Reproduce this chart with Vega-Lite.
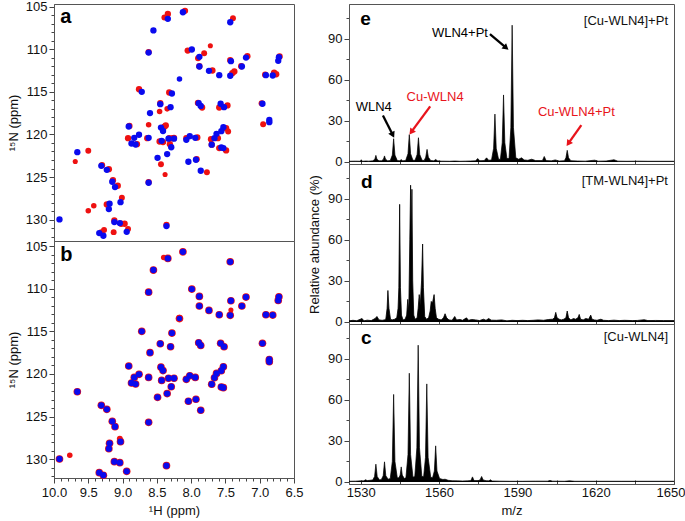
{
"$schema": "https://vega.github.io/schema/vega-lite/v6.json",
"background": "white",
"padding": {"left": 6, "top": 0, "right": 0, "bottom": 0},
"config": {
  "font": "Liberation Sans",
  "concat": {"spacing": 0},
  "view": {"stroke": "#555", "strokeWidth": 1},
  "axis": {"grid": false, "domainColor": "#555", "tickColor": "#444", "labelColor": "#111", "titleColor": "#111", "labelFontSize": 13, "titleFontSize": 13, "titleFontWeight": "normal", "labelFlush": false, "labelOverlap": false, "tickWidth": 1, "domainWidth": 1}
},
"datasets": {
  "blue": [
    {"h":8.34,"n":106.44,"w":"L"},{"h":8.55,"n":107.8,"w":"L"},{"h":8.62,"n":110.4,"w":"L"},{"h":8.72,"n":115.0,"w":"L"},{"h":8.28,"n":115.2,"w":"L"},{"h":8.45,"n":116.45,"w":"L"},{"h":8.30,"n":116.8,"w":"L"},{"h":8.60,"n":117.5,"w":"L"},{"h":8.91,"n":119.07,"w":"L"},{"h":8.44,"n":119.2,"w":"L"},{"h":8.41,"n":119.6,"w":"L"},{"h":8.76,"n":120.04,"w":"L"},{"h":8.83,"n":120.4,"w":"L"},{"h":8.62,"n":120.4,"w":"L"},{"h":8.43,"n":120.75,"w":"L"},{"h":8.33,"n":120.5,"w":"L"},{"h":8.25,"n":120.5,"w":"L"},{"h":8.87,"n":121.06,"w":"L"},{"h":8.81,"n":121.18,"w":"L"},{"h":8.29,"n":121.5,"w":"L"},{"h":9.66,"n":122.08,"w":"L"},{"h":8.35,"n":122.3,"w":"L"},{"h":8.49,"n":122.74,"w":"L"},{"h":9.31,"n":123.68,"w":"L"},{"h":9.23,"n":124.15,"w":"L"},{"h":9.15,"n":125.55,"w":"L"},{"h":8.62,"n":125.67,"w":"L"},{"h":9.11,"n":126.18,"w":"L"},{"h":9.03,"n":127.94,"w":"L"},{"h":9.19,"n":128.13,"w":"L"},{"h":9.20,"n":128.76,"w":"L"},{"h":9.92,"n":129.97,"w":"L"},{"h":9.12,"n":130.28,"w":"L"},{"h":9.04,"n":130.4,"w":"L"},{"h":8.36,"n":130.75,"w":"L"},{"h":9.34,"n":131.57,"w":"L"},{"h":9.28,"n":131.88,"w":"L"},{"h":8.94,"n":131.42,"w":"L"},{"h":8.12,"n":105.67,"w":"L"},{"h":7.43,"n":106.84,"w":"L"},{"h":7.99,"n":110.04,"w":"L"},{"h":7.88,"n":110.9,"w":"L"},{"h":7.42,"n":111.41,"w":"L"},{"h":7.20,"n":110.98,"w":"L"},{"h":6.73,"n":111.37,"w":"L"},{"h":6.72,"n":110.95,"w":"L"},{"h":7.88,"n":112.03,"w":"L"},{"h":7.74,"n":112.54,"w":"L"},{"h":7.26,"n":112.03,"w":"L"},{"h":7.59,"n":113.05,"w":"L"},{"h":7.43,"n":113.12,"w":"L"},{"h":6.91,"n":113.05,"w":"L"},{"h":6.81,"n":113.09,"w":"L"},{"h":8.17,"n":113.5,"w":"S"},{"h":7.89,"n":116.33,"w":"L"},{"h":7.86,"n":116.65,"w":"L"},{"h":7.57,"n":116.4,"w":"L"},{"h":7.52,"n":116.8,"w":"L"},{"h":6.96,"n":116.4,"w":"L"},{"h":6.86,"n":118.3,"w":"L"},{"h":6.86,"n":118.56,"w":"L"},{"h":7.53,"n":119.15,"w":"L"},{"h":7.56,"n":119.62,"w":"L"},{"h":7.63,"n":119.93,"w":"L"},{"h":7.66,"n":120.44,"w":"L"},{"h":8.02,"n":120.2,"w":"L"},{"h":8.07,"n":120.63,"w":"L"},{"h":7.94,"n":120.4,"w":"L"},{"h":7.70,"n":121.2,"w":"L"},{"h":7.56,"n":121.53,"w":"L"},{"h":7.53,"n":121.6,"w":"L"},{"h":7.93,"n":122.97,"w":"L"},{"h":8.04,"n":123.2,"w":"L"},{"h":7.86,"n":124.26,"w":"L"}
  ],
  "redA": [
    {"h":8.34,"n":105.86,"w":"L"},{"h":8.39,"n":106.29,"w":"M"},{"h":8.62,"n":110.34,"w":"L"},{"h":8.76,"n":114.7,"w":"L"},{"h":8.32,"n":115.08,"w":"L"},{"h":8.45,"n":116.33,"w":"L"},{"h":8.46,"n":117.3,"w":"S"},{"h":8.35,"n":117.0,"w":"S"},{"h":8.62,"n":118.87,"w":"S"},{"h":8.39,"n":119.1,"w":"L"},{"h":8.37,"n":118.95,"w":"L"},{"h":8.92,"n":120.44,"w":"L"},{"h":8.79,"n":121.14,"w":"L"},{"h":8.64,"n":120.44,"w":"L"},{"h":8.46,"n":120.83,"w":"L"},{"h":8.41,"n":120.9,"w":"L"},{"h":8.32,"n":120.44,"w":"L"},{"h":8.27,"n":120.44,"w":"L"},{"h":8.31,"n":121.14,"w":"L"},{"h":9.50,"n":121.92,"w":"M"},{"h":9.69,"n":123.17,"w":"T"},{"h":8.44,"n":123.5,"w":"M"},{"h":8.38,"n":124.7,"w":"T"},{"h":9.30,"n":123.6,"w":"L"},{"h":9.20,"n":124.07,"w":"L"},{"h":9.14,"n":125.36,"w":"L"},{"h":9.07,"n":126.02,"w":"L"},{"h":9.01,"n":127.43,"w":"M"},{"h":9.23,"n":128.21,"w":"L"},{"h":9.42,"n":128.37,"w":"S"},{"h":9.50,"n":128.95,"w":"S"},{"h":8.62,"n":125.6,"w":"L"},{"h":9.12,"n":130.09,"w":"L"},{"h":9.02,"n":130.48,"w":"L"},{"h":8.97,"n":130.48,"w":"L"},{"h":8.92,"n":131.1,"w":"M"},{"h":9.27,"n":131.22,"w":"M"},{"h":9.31,"n":131.5,"w":"L"},{"h":9.13,"n":131.46,"w":"M"},{"h":8.36,"n":130.6,"w":"L"},{"h":8.09,"n":105.5,"w":"L"},{"h":7.39,"n":106.37,"w":"M"},{"h":8.05,"n":110.16,"w":"L"},{"h":7.81,"n":110.47,"w":"M"},{"h":7.72,"n":109.6,"w":"T"},{"h":7.90,"n":111.06,"w":"M"},{"h":7.18,"n":110.82,"w":"L"},{"h":6.71,"n":110.86,"w":"L"},{"h":7.69,"n":112.5,"w":"L"},{"h":7.40,"n":112.82,"w":"L"},{"h":7.37,"n":112.62,"w":"L"},{"h":6.79,"n":112.74,"w":"L"},{"h":6.76,"n":112.94,"w":"L"},{"h":7.88,"n":112.0,"w":"L"},{"h":7.59,"n":116.84,"w":"L"},{"h":7.47,"n":116.6,"w":"L"},{"h":7.84,"n":116.84,"w":"L"},{"h":6.97,"n":116.35,"w":"L"},{"h":6.95,"n":118.8,"w":"M"},{"h":7.49,"n":119.27,"w":"L"},{"h":7.46,"n":119.65,"w":"M"},{"h":7.91,"n":120.36,"w":"L"},{"h":8.07,"n":120.44,"w":"L"},{"h":7.71,"n":120.56,"w":"L"},{"h":7.61,"n":120.44,"w":"L"},{"h":7.59,"n":121.6,"w":"L"},{"h":7.49,"n":121.88,"w":"L"},{"h":7.70,"n":121.2,"w":"L"},{"h":7.92,"n":122.9,"w":"L"},{"h":7.77,"n":124.43,"w":"M"},{"h":8.25,"n":120.4,"w":"L"},{"h":8.90,"n":119.0,"w":"L"},{"h":7.43,"n":111.3,"w":"L"},{"h":7.27,"n":112.0,"w":"L"},{"h":6.92,"n":113.0,"w":"L"},{"h":7.90,"n":116.3,"w":"L"}
  ],
  "redB": [
    {"h":9.77,"n":129.53,"w":"S"},{"h":8.17,"n":113.38,"w":"S"},{"h":8.40,"n":106.34,"w":"S"},{"h":7.42,"n":112.5,"w":"T"},{"h":9.04,"n":127.6,"w":"M"},{"h":8.55,"n":107.9,"w":"M"}
  ],
  "specE": [
    {"mz":1525.5,"ab":0.5},{"mz":1528,"ab":0.6},{"mz":1529.8,"ab":0.5},{"mz":1530.2,"ab":1.6},{"mz":1530.6,"ab":0.5},{"mz":1532,"ab":0.7},{"mz":1533,"ab":0.6},
    {"mz":1534.6,"ab":0.8},{"mz":1535.4,"ab":2},{"mz":1535.8,"ab":4.8},{"mz":1536.2,"ab":2},{"mz":1537,"ab":0.8},
    {"mz":1538,"ab":0.9},{"mz":1538.7,"ab":2},{"mz":1539.1,"ab":4.4},{"mz":1539.5,"ab":2},{"mz":1540.3,"ab":0.8},
    {"mz":1541.3,"ab":1},{"mz":1542.1,"ab":5},{"mz":1542.6,"ab":17},{"mz":1543.1,"ab":5},{"mz":1544,"ab":1},
    {"mz":1545,"ab":0.8},{"mz":1545.5,"ab":1.8},{"mz":1546,"ab":0.8},
    {"mz":1547.2,"ab":1},{"mz":1548.1,"ab":6},{"mz":1548.6,"ab":20},{"mz":1549.1,"ab":6},{"mz":1550,"ab":1.2},
    {"mz":1550.8,"ab":1.2},{"mz":1551.6,"ab":5.5},{"mz":1552.1,"ab":17.7},{"mz":1552.6,"ab":5.5},{"mz":1553.5,"ab":1.2},
    {"mz":1554.3,"ab":1.1},{"mz":1554.9,"ab":3.5},{"mz":1555.4,"ab":9.2},{"mz":1555.9,"ab":3.5},{"mz":1556.8,"ab":1},
    {"mz":1558,"ab":0.8},{"mz":1558.7,"ab":1.8},{"mz":1559.4,"ab":0.8},
    {"mz":1561,"ab":0.6},{"mz":1564,"ab":0.5},{"mz":1566,"ab":0.7},{"mz":1568,"ab":0.5},{"mz":1570,"ab":0.6},{"mz":1572,"ab":0.7},
    {"mz":1574,"ab":0.8},{"mz":1574.8,"ab":2.5},{"mz":1575.6,"ab":0.9},
    {"mz":1577.3,"ab":1},{"mz":1578.2,"ab":3},{"mz":1579,"ab":1.2},
    {"mz":1580.1,"ab":1.5},{"mz":1580.9,"ab":10},{"mz":1581.4,"ab":35},{"mz":1581.9,"ab":10},{"mz":1582.8,"ab":2},
    {"mz":1583.5,"ab":2},{"mz":1584.2,"ab":14},{"mz":1584.7,"ab":49},{"mz":1585.2,"ab":14},{"mz":1586,"ab":2.5},
    {"mz":1586.8,"ab":2.5},{"mz":1587.5,"ab":25},{"mz":1588.0,"ab":100},{"mz":1588.5,"ab":25},{"mz":1589.4,"ab":3},
    {"mz":1590.5,"ab":2},{"mz":1591.6,"ab":3},{"mz":1592.6,"ab":1.5},{"mz":1594,"ab":1.2},{"mz":1595.5,"ab":2},{"mz":1597,"ab":1},{"mz":1599,"ab":1},
    {"mz":1599.6,"ab":1},{"mz":1600.3,"ab":4},{"mz":1601,"ab":1},
    {"mz":1603,"ab":0.8},{"mz":1604.5,"ab":1.5},{"mz":1606,"ab":0.7},
    {"mz":1608,"ab":0.9},{"mz":1608.6,"ab":3},{"mz":1609.1,"ab":8.5},{"mz":1609.6,"ab":3},{"mz":1610.5,"ab":0.9},
    {"mz":1613,"ab":0.7},{"mz":1616,"ab":0.6},{"mz":1619.6,"ab":1.3},{"mz":1621,"ab":0.6},{"mz":1624,"ab":0.7},{"mz":1627,"ab":1.6},{"mz":1628.5,"ab":0.6},{"mz":1632,"ab":0.5},{"mz":1636,"ab":0.6},{"mz":1640,"ab":0.5},{"mz":1645,"ab":0.5},{"mz":1650,"ab":0.5}
  ],
  "specD": [
    {"mz":1525.5,"ab":0.8},{"mz":1527,"ab":1.2},{"mz":1528.5,"ab":0.9},{"mz":1530.5,"ab":2.5},{"mz":1531.2,"ab":0.8},{"mz":1532.5,"ab":1.3},{"mz":1534,"ab":1},{"mz":1535.5,"ab":2.5},{"mz":1536.2,"ab":4},{"mz":1537,"ab":1.5},{"mz":1538.2,"ab":1.2},{"mz":1539,"ab":1.5},
    {"mz":1539.6,"ab":2},{"mz":1540.1,"ab":10},{"mz":1540.4,"ab":23},{"mz":1540.8,"ab":10},{"mz":1541.4,"ab":2},
    {"mz":1542,"ab":1.5},{"mz":1543,"ab":2},
    {"mz":1543.8,"ab":3},{"mz":1544.3,"ab":10},{"mz":1544.6,"ab":25},{"mz":1544.9,"ab":86},{"mz":1545.2,"ab":25},{"mz":1545.6,"ab":5},{"mz":1546.2,"ab":1.5},
    {"mz":1547,"ab":2},
    {"mz":1547.6,"ab":5},{"mz":1548.0,"ab":16.5},{"mz":1548.4,"ab":8},{"mz":1548.8,"ab":60},{"mz":1549.1,"ab":100},{"mz":1549.35,"ab":60},{"mz":1549.6,"ab":97},{"mz":1549.9,"ab":30},{"mz":1550.3,"ab":5},{"mz":1550.8,"ab":2},
    {"mz":1551.6,"ab":3},{"mz":1552.0,"ab":10},{"mz":1552.4,"ab":20},{"mz":1552.8,"ab":12},{"mz":1553.3,"ab":30},{"mz":1553.7,"ab":57},{"mz":1554.0,"ab":25},{"mz":1554.5,"ab":4},{"mz":1555.2,"ab":2},
    {"mz":1556,"ab":3},{"mz":1556.6,"ab":8},{"mz":1557.0,"ab":15},{"mz":1557.5,"ab":14},{"mz":1558.1,"ab":20},{"mz":1558.5,"ab":10},{"mz":1559,"ab":3},{"mz":1559.8,"ab":2},
    {"mz":1560.8,"ab":1.5},{"mz":1561.7,"ab":3},{"mz":1562.3,"ab":6},{"mz":1562.9,"ab":3},{"mz":1563.8,"ab":1.5},{"mz":1565,"ab":1.2},{"mz":1566,"ab":4},{"mz":1566.7,"ab":1.5},{"mz":1568,"ab":1.8},{"mz":1569,"ab":1.2},{"mz":1570.5,"ab":3},{"mz":1571.3,"ab":1.2},{"mz":1572.5,"ab":1.8},{"mz":1574,"ab":1.5},{"mz":1575.5,"ab":1},{"mz":1577,"ab":2},{"mz":1578,"ab":1.2},{"mz":1579,"ab":2.5},{"mz":1580,"ab":1.3},{"mz":1582,"ab":1.2},{"mz":1584,"ab":1.5},{"mz":1586,"ab":0.8},{"mz":1588,"ab":1.2},{"mz":1590,"ab":1},{"mz":1592,"ab":1.2},{"mz":1594,"ab":1},{"mz":1596,"ab":1.2},{"mz":1598,"ab":1.5},{"mz":1600,"ab":1.2},{"mz":1602,"ab":1.8},{"mz":1603.5,"ab":2},
    {"mz":1604.2,"ab":3},{"mz":1604.7,"ab":7},{"mz":1605.2,"ab":3},{"mz":1606,"ab":2},{"mz":1606.8,"ab":1.5},{"mz":1607.8,"ab":2},
    {"mz":1608.6,"ab":3},{"mz":1609.1,"ab":8},{"mz":1609.6,"ab":3},{"mz":1610.5,"ab":1.5},{"mz":1611.5,"ab":2.5},{"mz":1612.3,"ab":2},{"mz":1613.2,"ab":3},
    {"mz":1613.7,"ab":5.5},{"mz":1614.2,"ab":2},{"mz":1615.2,"ab":1.5},{"mz":1616.2,"ab":2.5},{"mz":1617.3,"ab":2},
    {"mz":1618.1,"ab":5},{"mz":1618.6,"ab":2},{"mz":1619.5,"ab":1.5},{"mz":1620.5,"ab":1.2},{"mz":1622,"ab":2},{"mz":1623,"ab":1.2},{"mz":1625,"ab":1},{"mz":1627,"ab":1.3},{"mz":1629,"ab":1},{"mz":1631,"ab":1.2},{"mz":1634,"ab":1},{"mz":1636,"ab":1.1},{"mz":1638.6,"ab":1.6},{"mz":1640,"ab":1},{"mz":1643,"ab":1.1},{"mz":1646,"ab":1},{"mz":1650,"ab":1}
  ],
  "specC": [
    {"mz":1525.5,"ab":0.5},{"mz":1528,"ab":0.6},{"mz":1530,"ab":0.8},{"mz":1531.2,"ab":0.8},{"mz":1531.8,"ab":1.6},{"mz":1532.5,"ab":1},{"mz":1533.5,"ab":1.2},
    {"mz":1534.6,"ab":1.5},{"mz":1535.3,"ab":4},{"mz":1535.8,"ab":13},{"mz":1536.3,"ab":4},{"mz":1537.2,"ab":1.5},
    {"mz":1537.9,"ab":1.8},{"mz":1538.6,"ab":4.5},{"mz":1539.1,"ab":14.7},{"mz":1539.6,"ab":4.5},{"mz":1540.5,"ab":2},
    {"mz":1541.3,"ab":2.5},{"mz":1542.1,"ab":15},{"mz":1542.6,"ab":64},{"mz":1543.1,"ab":15},{"mz":1544.0,"ab":3},
    {"mz":1544.6,"ab":3},{"mz":1545.1,"ab":5},{"mz":1545.5,"ab":11},{"mz":1545.9,"ab":5},{"mz":1546.7,"ab":2.5},
    {"mz":1547.3,"ab":3},{"mz":1548.1,"ab":20},{"mz":1548.6,"ab":79.5},{"mz":1549.1,"ab":20},{"mz":1550.0,"ab":3.5},
    {"mz":1550.7,"ab":4},{"mz":1551.5,"ab":25},{"mz":1552.0,"ab":100},{"mz":1552.5,"ab":25},{"mz":1553.4,"ab":4},
    {"mz":1554.1,"ab":4},{"mz":1554.8,"ab":18},{"mz":1555.3,"ab":71.7},{"mz":1555.8,"ab":18},{"mz":1556.8,"ab":3.5},
    {"mz":1557.5,"ab":3},{"mz":1558.2,"ab":8},{"mz":1558.7,"ab":26.4},{"mz":1559.2,"ab":8},{"mz":1560.2,"ab":2.5},
    {"mz":1561.5,"ab":1.8},{"mz":1562.3,"ab":2},{"mz":1563.5,"ab":1.2},{"mz":1565,"ab":0.9},{"mz":1567,"ab":0.8},{"mz":1569,"ab":0.7},{"mz":1571,"ab":0.8},
    {"mz":1572.2,"ab":1},{"mz":1572.8,"ab":3.7},{"mz":1573.4,"ab":1},
    {"mz":1575,"ab":1},{"mz":1575.7,"ab":1.5},{"mz":1576.3,"ab":4},{"mz":1576.9,"ab":1.5},{"mz":1578,"ab":0.9},{"mz":1579.1,"ab":0.8},{"mz":1579.7,"ab":1.6},{"mz":1580.3,"ab":0.7},{"mz":1583,"ab":0.6},{"mz":1587,"ab":0.5},{"mz":1592,"ab":0.5},{"mz":1597,"ab":0.6},{"mz":1601.5,"ab":0.6},{"mz":1602.5,"ab":1.1},{"mz":1603.5,"ab":0.6},{"mz":1608,"ab":0.5},{"mz":1610,"ab":0.8},{"mz":1612,"ab":0.5},{"mz":1620,"ab":0.5},{"mz":1630,"ab":0.5},{"mz":1640,"ab":0.5},{"mz":1650,"ab":0.5}
  ]
},
"resolve": {"scale": {"x": "independent", "y": "independent", "size": "independent", "color": "independent"}},
"spacing": 4,
"hconcat": [
  {
    "spacing": 0,
    "bounds": "flush",
    "resolve": {"scale": {"x": "independent", "y": "independent", "size": "independent"}},
    "vconcat": [
      {
        "width": 240, "height": 237,
        "encoding": {
          "x": {"field": "h", "type": "quantitative", "scale": {"domain": [6.5, 10], "reverse": true, "nice": false, "zero": false}, "axis": null},
          "y": {"field": "n", "type": "quantitative", "scale": {"domain": [104.7, 132.5], "reverse": true, "nice": false, "zero": false},
                "axis": {"values": [105,106,107,108,109,110,111,112,113,114,115,116,117,118,119,120,121,122,123,124,125,126,127,128,129,130,131,132],
                         "labelExpr": "datum.value % 5 === 0 ? datum.label : ''",
                         "tickSize": {"condition": {"test": "datum.value % 5 === 0", "value": 5}, "value": 3},
                         "title": "¹⁵N (ppm)", "labelPadding": 2, "titlePadding": 5}}
        },
        "layer": [
          {"data": {"name": "redA"}, "mark": {"type": "circle", "color": "#ee1111", "opacity": 1},
           "encoding": {"size": {"field": "w", "type": "ordinal", "scale": {"domain": ["L","M","S","T"], "range": [40, 26, 12, 5]}, "legend": null}}},
          {"data": {"name": "blue"}, "mark": {"type": "circle", "color": "#0a0aee", "opacity": 1},
           "encoding": {"size": {"field": "w", "type": "ordinal", "scale": {"domain": ["L","M","S","T"], "range": [40, 26, 12, 5]}, "legend": null}}},
          {"data": {"values": [{"h": 9.91, "n": 106.2, "t": "a"}]}, "mark": {"type": "text", "fontSize": 20, "fontWeight": "bold", "align": "left", "baseline": "middle", "color": "black"},
           "encoding": {"text": {"field": "t"}}}
        ]
      },
      {
        "width": 240, "height": 237,
        "encoding": {
          "x": {"field": "h", "type": "quantitative", "scale": {"domain": [6.5, 10], "reverse": true, "nice": false, "zero": false},
                "axis": {"values": [6.5,6.6,6.7,6.8,6.9,7,7.1,7.2,7.3,7.4,7.5,7.6,7.7,7.8,7.9,8,8.1,8.2,8.3,8.4,8.5,8.6,8.7,8.8,8.9,9,9.1,9.2,9.3,9.4,9.5,9.6,9.7,9.8,9.9,10],
                         "labelExpr": "abs(datum.value*2 - round(datum.value*2)) < 0.01 ? format(datum.value, '.1f') : ''",
                         "tickSize": {"condition": {"test": "abs(datum.value*2 - round(datum.value*2)) < 0.01", "value": 5}, "value": 3},
                         "title": "¹H (ppm)", "labelPadding": 3, "titlePadding": 5}},
          "y": {"field": "n", "type": "quantitative", "scale": {"domain": [104.4, 132.2], "reverse": true, "nice": false, "zero": false},
                "axis": {"values": [105,106,107,108,109,110,111,112,113,114,115,116,117,118,119,120,121,122,123,124,125,126,127,128,129,130,131,132],
                         "labelExpr": "datum.value % 5 === 0 ? datum.label : ''",
                         "tickSize": {"condition": {"test": "datum.value % 5 === 0", "value": 5}, "value": 3},
                         "title": "¹⁵N (ppm)", "labelPadding": 2, "titlePadding": 5}}
        },
        "layer": [
          {"data": {"name": "blue"}, "mark": {"type": "circle", "color": "#ee1111", "opacity": 1, "size": 58}},
          {"data": {"name": "redB"}, "mark": {"type": "circle", "color": "#ee1111", "opacity": 1},
           "encoding": {"size": {"field": "w", "type": "ordinal", "scale": {"domain": ["L","M","S","T"], "range": [40, 26, 12, 5]}, "legend": null}}},
          {"data": {"name": "blue"}, "mark": {"type": "circle", "color": "#0a0aee", "opacity": 1},
           "encoding": {"size": {"field": "w", "type": "ordinal", "scale": {"domain": ["L","M","S","T"], "range": [40, 26, 12, 5]}, "legend": null}}},
          {"data": {"values": [{"h": 9.91, "n": 106.1, "t": "b"}]}, "mark": {"type": "text", "fontSize": 20, "fontWeight": "bold", "align": "left", "baseline": "middle", "color": "black"},
           "encoding": {"text": {"field": "t"}}}
        ]
      }
    ]
  },
  {
    "spacing": 0,
    "bounds": "flush",
    "resolve": {"scale": {"x": "independent", "y": "independent", "color": "independent", "angle": "independent"}},
    "vconcat": [
      {
        "width": 325, "height": 160,
        "encoding": {
          "x": {"field": "mz", "type": "quantitative", "scale": {"domain": [1525.5, 1650], "nice": false, "zero": false},
                "axis": {"values": [1530,1545,1560,1575,1590,1605,1620,1635,1650], "labels": false, "tickSize": -4, "title": null}},
          "y": {"field": "ab", "type": "quantitative", "scale": {"domain": [-1.5, 115.5], "nice": false, "zero": false},
                "axis": {"values": [0,15,30,45,60,75,90,105], "labelExpr": "datum.value % 30 === 0 ? datum.label : ''",
                         "tickSize": {"condition": {"test": "datum.value % 30 === 0", "value": 5}, "value": 3}, "title": null, "labelPadding": 2}}
        },
        "layer": [
          {"data": {"name": "specE"}, "mark": {"type": "area", "color": "black", "opacity": 1, "fillOpacity": 1, "line": {"color": "black", "strokeWidth": 0.7}}},
          {"data": {"values": [
              {"mz": 1538.5, "ab": 34, "mz2": 1542.1, "ab2": 20.4, "sp": "apo"},
              {"mz": 1556.6, "ab": 40.6, "mz2": 1549.6, "ab2": 22.5, "sp": "Cu"},
              {"mz": 1579.5, "ab": 93.4, "mz2": 1585.4, "ab2": 83.9, "sp": "apo"},
              {"mz": 1614.5, "ab": 26.9, "mz2": 1609.75, "ab2": 14.1, "sp": "Cu"}]},
           "mark": {"type": "rule", "strokeWidth": 2.3},
           "encoding": {"x2": {"field": "mz2"}, "y2": {"field": "ab2"},
                        "color": {"field": "sp", "type": "nominal", "scale": {"domain": ["apo", "Cu"], "range": ["black", "#e8141c"]}, "legend": null}}},
          {"data": {"values": [
              {"mz": 1542.1, "ab": 20.4, "dir": 153.5, "sp": "apo"},
              {"mz": 1549.6, "ab": 22.5, "dir": 216.4, "sp": "Cu"},
              {"mz": 1585.4, "ab": 83.9, "dir": 130.1, "sp": "apo"},
              {"mz": 1609.75, "ab": 14.1, "dir": 214.8, "sp": "Cu"}]},
           "mark": {"type": "point", "shape": "triangle", "filled": true, "size": 50, "opacity": 1},
           "encoding": {"angle": {"field": "dir", "type": "quantitative", "scale": {"domain": [0, 360], "range": [0, 360]}},
                        "color": {"field": "sp", "type": "nominal", "scale": {"domain": ["apo", "Cu"], "range": ["black", "#e8141c"]}, "legend": null}}},
          {"data": {"values": [
              {"mz": 1535.0, "ab": 40.1, "t": "WLN4", "sp": "apo"},
              {"mz": 1558.5, "ab": 47.4, "t": "Cu-WLN4", "sp": "Cu"},
              {"mz": 1568.0, "ab": 94.6, "t": "WLN4+Pt", "sp": "apo"},
              {"mz": 1612.6, "ab": 36.5, "t": "Cu-WLN4+Pt", "sp": "Cu"}]},
           "mark": {"type": "text", "fontSize": 13, "align": "center", "baseline": "middle"},
           "encoding": {"text": {"field": "t"}, "color": {"field": "sp", "type": "nominal", "scale": {"domain": ["apo", "Cu"], "range": ["black", "#e8141c"]}, "legend": null}}},
          {"data": {"values": [{"mz": 1529.8, "ab": 104.3, "t": "e"}]}, "mark": {"type": "text", "fontSize": 19, "fontWeight": "bold", "align": "left", "baseline": "middle", "color": "black"},
           "encoding": {"text": {"field": "t"}}},
          {"data": {"values": [{"mz": 1647.7, "ab": 103, "t": "[Cu-WLN4]+Pt"}]}, "mark": {"type": "text", "fontSize": 13, "align": "right", "baseline": "middle", "color": "#111"},
           "encoding": {"text": {"field": "t"}}}
        ]
      },
      {
        "width": 325, "height": 160,
        "encoding": {
          "x": {"field": "mz", "type": "quantitative", "scale": {"domain": [1525.5, 1650], "nice": false, "zero": false},
                "axis": {"values": [1530,1545,1560,1575,1590,1605,1620,1635,1650], "labels": false, "tickSize": -4, "title": null}},
          "y": {"field": "ab", "type": "quantitative", "scale": {"domain": [-1.5, 115.5], "nice": false, "zero": false},
                "axis": {"values": [0,15,30,45,60,75,90,105], "labelExpr": "datum.value % 30 === 0 ? datum.label : ''",
                         "tickSize": {"condition": {"test": "datum.value % 30 === 0", "value": 5}, "value": 3}, "title": "Relative abundance (%)", "labelPadding": 2, "titlePadding": 6}}
        },
        "layer": [
          {"data": {"name": "specD"}, "mark": {"type": "area", "color": "black", "opacity": 1, "fillOpacity": 1, "line": {"color": "black", "strokeWidth": 0.8}}},
          {"data": {"values": [{"mz": 1530.1, "ab": 102.6, "t": "d"}]}, "mark": {"type": "text", "fontSize": 19, "fontWeight": "bold", "align": "left", "baseline": "middle", "color": "black"},
           "encoding": {"text": {"field": "t"}}},
          {"data": {"values": [{"mz": 1647.7, "ab": 103, "t": "[TM-WLN4]+Pt"}]}, "mark": {"type": "text", "fontSize": 13, "align": "right", "baseline": "middle", "color": "#111"},
           "encoding": {"text": {"field": "t"}}}
        ]
      },
      {
        "width": 325, "height": 160,
        "encoding": {
          "x": {"field": "mz", "type": "quantitative", "scale": {"domain": [1525.5, 1650], "nice": false, "zero": false},
                "axis": {"values": [1530,1545,1560,1575,1590,1605,1620,1635,1650], "labelExpr": "datum.value % 30 === 0 ? format(datum.value, 'd') : ''", "tickSize": -4, "title": "m/z", "labelPadding": 6, "titlePadding": 5,
                         "labelAlign": {"condition": {"test": "datum.value === 1650", "value": "right"}, "value": "center"},
                         "labelOffset": {"condition": {"test": "datum.value === 1650", "value": 11}, "value": 0}}},
          "y": {"field": "ab", "type": "quantitative", "scale": {"domain": [-1.5, 115.5], "nice": false, "zero": false},
                "axis": {"values": [0,15,30,45,60,75,90,105], "labelExpr": "datum.value % 30 === 0 ? datum.label : ''",
                         "tickSize": {"condition": {"test": "datum.value % 30 === 0", "value": 5}, "value": 3}, "title": null, "labelPadding": 2}}
        },
        "layer": [
          {"data": {"name": "specC"}, "mark": {"type": "area", "color": "black", "opacity": 1, "fillOpacity": 1, "line": {"color": "black", "strokeWidth": 0.7}}},
          {"data": {"values": [{"mz": 1530.1, "ab": 105, "t": "c"}]}, "mark": {"type": "text", "fontSize": 19, "fontWeight": "bold", "align": "left", "baseline": "middle", "color": "black"},
           "encoding": {"text": {"field": "t"}}},
          {"data": {"values": [{"mz": 1647.7, "ab": 106, "t": "[Cu-WLN4]"}]}, "mark": {"type": "text", "fontSize": 13, "align": "right", "baseline": "middle", "color": "#111"},
           "encoding": {"text": {"field": "t"}}}
        ]
      }
    ]
  }
]
}
